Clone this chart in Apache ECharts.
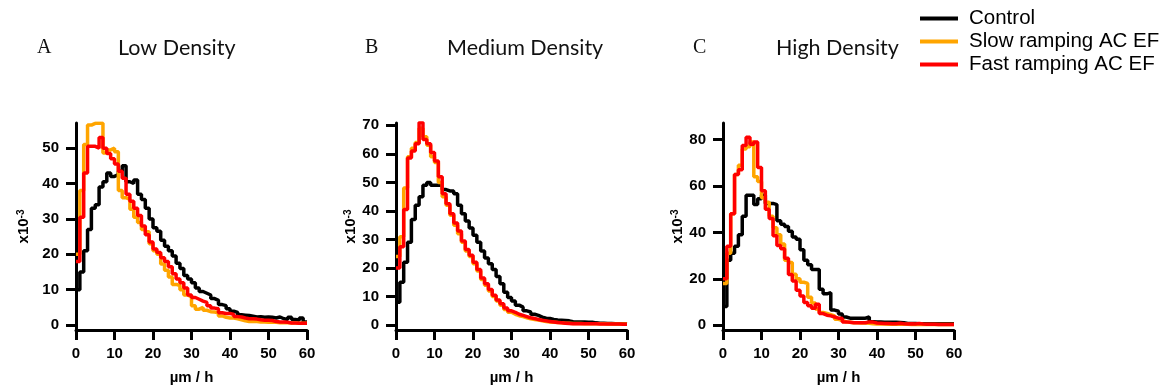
<!DOCTYPE html>
<html><head><meta charset="utf-8">
<script src="https://cdn.jsdelivr.net/npm/echarts@6/dist/echarts.min.js"></script>
<style>html,body{margin:0;padding:0;background:#fff}#c{width:1167px;height:390px}</style>
</head><body><div id="c"></div>
<script>
// ---- data (histogram bins of 1 µm/h, values x10^-3) ----
const binWidth = 1;
const xTicks = [0, 10, 20, 30, 40, 50, 60];
const yTicksA = [0, 10, 20, 30, 40, 50];
const yTicksB = [0, 10, 20, 30, 40, 50, 60, 70];
const yTicksC = [0, 20, 40, 60, 80];
const seriesNames = ['Control', 'Slow ramping AC EF', 'Fast ramping AC EF'];
const panelLetters = ['A', 'B', 'C'];
const panelTitles = ['Low Density', 'Medium Density', 'High Density'];

const controlA = [10,15,21,27,33,34,39,40.5,43,42, 42.5,43.5,45,40.5,40,41,37,35.5,33,30, 27.5,26.5,24,22.3,21,19.5,17.5,16,14,13, 12,10.5,9.5,9,8.5,7.5,7,5.8,5.5,4.6, 3.9,3.6,2.9,2.8,2.7,2.5,2.3,2.4,2.2,2.3, 2.2,2.0,2.3,1.8,1.6,2.2,1.6,1.4,2.0,0.9];
const slowA = [20,38,51,56.5,57,57,57,48.6,49.5,50, 49,38,36,35.5,32.7,30.5,29,27,26.4,23, 21,20,17.3,15.5,13.6,11.5,11.2,10,8.5,8, 5.5,4.5,5,4.2,3.8,3.7,3.5,2.6,2.2,2.0, 2.0,1.8,1.5,1.2,1.0,1.0,1.0,0.9,0.9,0.8, 0.8,0.8,0.7,0.7,0.7,0.6,0.6,0.5,0.5,0.5];
const fastA = [18,30.5,43,50.5,50.5,50,53,50,48.5,47, 45.5,43.5,41.5,37,35,33,31,28,25.5,23.5, 21.5,20.5,19,18,16.5,14.5,13,12,10.5,8.5, 7.8,7.3,6.8,6.4,5.5,4.8,4.6,3.5,3.3,3.3, 3.0,2.4,2.3,2.0,1.8,1.8,1.7,1.5,1.4,1.4, 1.3,1.0,0.9,0.9,0.8,0.6,0.6,0.5,0.5,0.5];

const controlB = [8,15,22,29,37,42,45,49,50,49, 49,49,47.5,47,47,46,42,39,36.5,34, 31.5,29,26,23.5,21.5,19.5,17,14.5,11.5,9.7, 8.5,7,6.3,5,4.6,3.8,3.4,2.8,2.4,2.3, 2.0,1.8,1.7,1.6,1.5,1.2,1.1,1.1,1.1,1.0, 1.0,0.8,0.7,0.7,0.6,0.6,0.5,0.5,0.5,0.4];
const slowB = [24,31,48,59,62,64,69,66,63,59, 57,50,45,42,38.5,35,32,29,26,24, 21.5,19,16,14,12,10,8.5,7,5.5,4.5, 3.8,3.3,3.0,2.6,2.2,2.0,1.8,1.5,1.3,1.1, 1.0,0.9,0.8,0.7,0.7,0.6,0.6,0.6,0.5,0.5, 0.5,0.5,0.5,0.5,0.4,0.4,0.4,0.4,0.4,0.4];
const fastB = [20,27.5,40.5,58.5,61,63.5,71,65,63.5,60.5, 57.5,52,46,42.5,39,35.8,33,29.5,26.5,24.5, 22,19.5,16.5,14.5,12.5,10.5,8.8,7.5,6,5, 4.5,3.8,3.4,3.0,2.6,2.3,2.0,1.7,1.5,1.3, 1.1,0.9,0.8,0.7,0.6,0.5,0.5,0.5,0.5,0.5, 0.5,0.5,0.4,0.4,0.4,0.4,0.4,0.4,0.3,0.3];

const controlC = [8,28,31,34,39,47,56,56,52,54.5, 56,52.5,52.5,52,45,43.5,42.5,40.5,38,37, 32.5,28,26,24,24,15.5,13.5,14,6.5,6, 4.8,3.5,3,3,3,3,3,3.5,1.5,1.4, 1.3,1.2,1.2,1.2,1.2,1.1,1.0,0.7,0.7,0.7, 0.6,0.6,0.6,0.6,0.6,0.6,0.6,0.6,0.6,0.6];
const slowC = [18,31,48,65,69,76,77,79,64,62, 55,53,47,42,39,35,28,27,22,20, 18.5,18,12,9.5,7,5.5,5,4.5,4,2.5, 2,1.4,1.2,1.0,1.0,0.9,0.9,0.8,0.6,0.5, 0.5,0.5,0.4,0.4,0.5,0.4,0.4,0.4,0.3,0.3, 0.4,0.3,0.3,0.3,0.3,0.3,0.3,0.3,0.3,0.3];
const fastC = [20,34,48,65,67,77.5,81,78,79,68, 58,50,46,38.6,34.4,33,28.8,21.8,19,15, 12.6,9.8,8.4,7.3,9,5,4.3,4,3.5,3, 3,1.4,1.2,1.0,1.0,1.0,1.0,1.4,1.3,0.9, 0.8,0.7,0.7,0.6,0.6,0.8,0.6,0.5,0.6,0.5, 0.7,0.5,0.4,0.4,0.4,0.3,0.3,0.3,0.3,0.3];

const panelData = [[controlA, slowA, fastA], [controlB, slowB, fastB], [controlC, slowC, fastC]];
const panelYTicks = [yTicksA, yTicksB, yTicksC];

// ---- layout / style ----
const colors = ['#000000', '#FFA500', '#FF0000'];
const layout = [
  {left: 76, ymin: -1.38, ymax: 57.1, nameGap: 44, letterX: 37, titleX: 118},
  {left: 396, ymin: -1.7, ymax: 70.8, nameGap: 36, letterX: 365, titleX: 447},
  {left: 723, ymin: -2.1, ymax: 87.2, nameGap: 33, letterX: 693, titleX: 776}
];
const axisFont = 'Liberation Sans, Arial, sans-serif';

const toSteps = vals => vals.map((v, i) => [i * binWidth, v]).concat([[vals.length * binWidth, vals[vals.length - 1]]]);

const grids = [], xAxes = [], yAxes = [], series = [], titles = [];
layout.forEach((L, p) => {
  grids.push({left: L.left, top: 123, width: 231, height: 212, containLabel: false});
  xAxes.push({
    type: 'value', gridIndex: p, min: 0, max: 60, interval: 10,
    axisLine: {show: true, onZero: false, lineStyle: {color: '#000', width: 3}},
    axisTick: {show: true, length: 10, customValues: xTicks, lineStyle: {color: '#000', width: 3}},
    axisLabel: {margin: 16, customValues: xTicks, color: '#000', fontSize: 15, fontWeight: 'bold', fontFamily: axisFont},
    splitLine: {show: false},
    name: 'µm / h', nameLocation: 'middle', nameGap: 40,
    nameTextStyle: {color: '#000', fontSize: 15, fontWeight: 'bold', fontFamily: axisFont}
  });
  yAxes.push({
    type: 'value', gridIndex: p, min: L.ymin, max: L.ymax,
    axisLine: {show: true, lineStyle: {color: '#000', width: 3}},
    axisTick: {show: true, length: 10, customValues: panelYTicks[p], lineStyle: {color: '#000', width: 3}},
    axisLabel: {margin: 17, customValues: panelYTicks[p], color: '#000', fontSize: 15, fontWeight: 'bold', fontFamily: axisFont},
    splitLine: {show: false},
    name: '{a|x10}{b|-3}', nameLocation: 'middle', nameRotate: 90, nameGap: L.nameGap,
    nameTextStyle: {
      rich: {
        a: {fontSize: 15, fontWeight: 'bold', fontFamily: axisFont, color: '#000', lineHeight: 16},
        b: {fontSize: 10, fontWeight: 'bold', fontFamily: axisFont, color: '#000', lineHeight: 9, verticalAlign: 'top'}
      }
    }
  });
  panelData[p].forEach((vals, s) => {
    series.push({
      type: 'line', name: seriesNames[s], xAxisIndex: p, yAxisIndex: p,
      data: toSteps(vals), step: 'end', showSymbol: false, symbol: 'none',
      lineStyle: {color: colors[s], width: 3.5}, itemStyle: {color: colors[s]},
      animation: false, z: 2 + s
    });
  });
  titles.push({text: panelLetters[p], left: L.letterX, top: 38, padding: 0,
    textStyle: {fontFamily: 'Liberation Serif, serif', fontSize: 20, fontWeight: 'normal', color: '#111'}});
  titles.push({text: panelTitles[p], left: L.titleX, top: 37, padding: 0,
    textStyle: {fontFamily: 'Lato, sans-serif', fontSize: 21.5, fontWeight: 'normal', color: '#111'}});
});

const chart = echarts.init(document.getElementById('c'), null, {renderer: 'canvas'});
chart.setOption({
  backgroundColor: '#fff',
  animation: false,
  title: titles,
  legend: {
    orient: 'vertical', left: 920, top: 8, padding: 0,
    icon: 'rect', itemWidth: 38, itemHeight: 4, itemGap: 2,
    data: seriesNames,
    textStyle: {fontFamily: axisFont, fontSize: 20.5, color: '#000', padding: [0, 0, 0, 6]}
  },
  grid: grids, xAxis: xAxes, yAxis: yAxes, series: series
});
</script></body></html>
